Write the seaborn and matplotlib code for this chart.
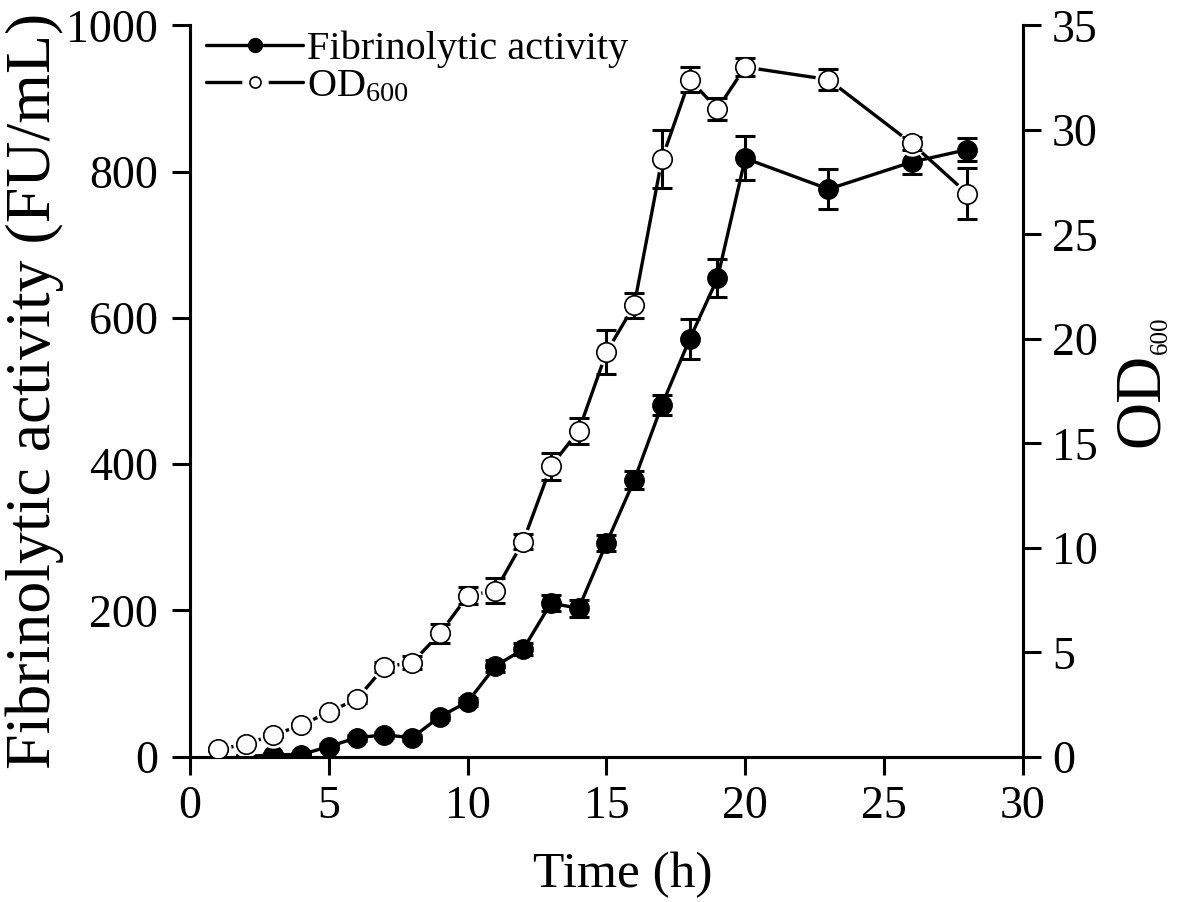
import numpy as np
import pandas as pd
import seaborn as sns
import matplotlib.pyplot as plt
from matplotlib.lines import Line2D
from matplotlib.legend_handler import HandlerTuple

# time points (h)
time_fu = [2, 3, 4, 5, 6, 7, 8, 9, 10, 11, 12, 13, 14, 15, 16, 17, 18, 19, 20, 23, 26, 28]
fu = [0, 3, 3, 14, 26, 30, 26, 55, 75, 124, 147, 210, 203, 292, 378, 481, 571, 654, 818, 776, 813, 830]
fu_err = [2, 2, 2, 3, 4, 4, 4, 5, 6, 8, 8, 11, 12, 11, 12, 14, 27, 26, 30, 27, 16, 16]

time_od = [1, 2, 3, 4, 5, 6, 7, 8, 9, 10, 11, 12, 13, 14, 15, 16, 17, 18, 19, 20, 23, 26, 28]
od = [0.35, 0.6, 1.05, 1.5, 2.15, 2.75, 4.3, 4.5, 5.9, 7.7, 7.95, 10.3, 13.9, 15.6, 19.35,
      21.6, 28.6, 32.4, 31.0, 33.0, 32.4, 29.35, 26.95]
od_err = [0.05, 0.05, 0.08, 0.1, 0.1, 0.2, 0.25, 0.3, 0.45, 0.4, 0.6, 0.34, 0.65, 0.62, 1.05,
          0.6, 1.4, 0.6, 0.53, 0.43, 0.5, 0.3, 1.2]

df_fu = pd.DataFrame({'Time': time_fu, 'FU': fu})
df_od = pd.DataFrame({'Time': time_od, 'OD': od})

sns.set_style("ticks")
plt.rcParams['font.family'] = 'serif'
plt.rcParams['font.serif'] = ['Liberation Serif', 'DejaVu Serif']
plt.rcParams['mathtext.fontset'] = 'custom'
plt.rcParams['mathtext.rm'] = 'Liberation Serif'
plt.rcParams['mathtext.default'] = 'regular'
for k in ['text.color', 'axes.labelcolor', 'xtick.color', 'ytick.color', 'axes.edgecolor']:
    plt.rcParams[k] = 'black'

fig = plt.figure(figsize=(11.81, 9.02), dpi=100)
ax = fig.add_axes([0.161, 0.161, 0.705, 0.811])
ax2 = ax.twinx()

lw = 2.4
# fibrinolytic activity (filled)
sns.lineplot(data=df_fu, x='Time', y='FU', ax=ax, color='black', lw=lw, zorder=1)
ax.errorbar(time_fu, fu, yerr=fu_err, fmt='none', ecolor='black', elinewidth=2.2,
            capsize=7.5, capthick=2.2, zorder=3)
ax.plot(time_fu, fu, 'o', color='black', ms=14, zorder=4)

# OD600 (open, with gap round symbols)
sns.lineplot(data=df_od, x='Time', y='OD', ax=ax2, color='black', lw=lw, zorder=1)
ax2.plot(time_od, od, 'o', color='white', ms=18, zorder=2)
ax2.errorbar(time_od, od, yerr=od_err, fmt='none', ecolor='black', elinewidth=2.2,
             capsize=7.5, capthick=2.2, zorder=3)
ax2.plot(time_od, od, 'o', mfc='white', mec='black', mew=1.2, ms=14, zorder=4)

ax.set_xlim(0, 30)
ax.set_ylim(0, 1000)
ax2.set_ylim(0, 35)
ax.set_xticks(np.arange(0, 31, 5))
ax.set_yticks(np.arange(0, 1001, 200))
ax2.set_yticks(np.arange(0, 36, 5))

for a in (ax, ax2):
    a.spines['top'].set_visible(False)
    for s in a.spines.values():
        s.set_linewidth(2.2)
    a.tick_params(direction='out', length=13, width=2.2, labelsize=33, pad=8)
ax.tick_params(axis='y', pad=10)

ax.set_xlabel('Time (h)', fontsize=37)
ax.xaxis.set_label_coords(0.52, -0.13)
ax.set_ylabel('Fibrinolytic activity (FU/mL)', fontsize=46, labelpad=2)
ax2.set_ylabel('')

# right axis title: OD with small subscript 600
fig.text(0.967, 0.5565, 'OD', rotation=90, ha='center', va='center', fontsize=47)
fig.text(0.983, 0.628, '600', rotation=90, ha='center', va='center', fontsize=18)

# legend
h1 = (Line2D([], [], color='black', lw=lw),
      Line2D([], [], ls='', marker='o', color='black', ms=10))
h2 = (Line2D([], [], color='black', lw=lw),
      Line2D([], [], ls='', marker='o', color='white', ms=18),
      Line2D([], [], ls='', marker='o', mfc='white', mec='black', mew=1.2, ms=8))
ax2.legend([h1, h2], ['Fibrinolytic activity', 'OD$_{600}$'],
           handler_map={tuple: HandlerTuple(ndivide=1)},
           loc='upper left', bbox_to_anchor=(0.0, 1.015), borderaxespad=0,
           frameon=False, fontsize=29, handlelength=2.4, handletextpad=0.1,
           labelspacing=0.0)

plt.savefig('out.png', dpi=100)
